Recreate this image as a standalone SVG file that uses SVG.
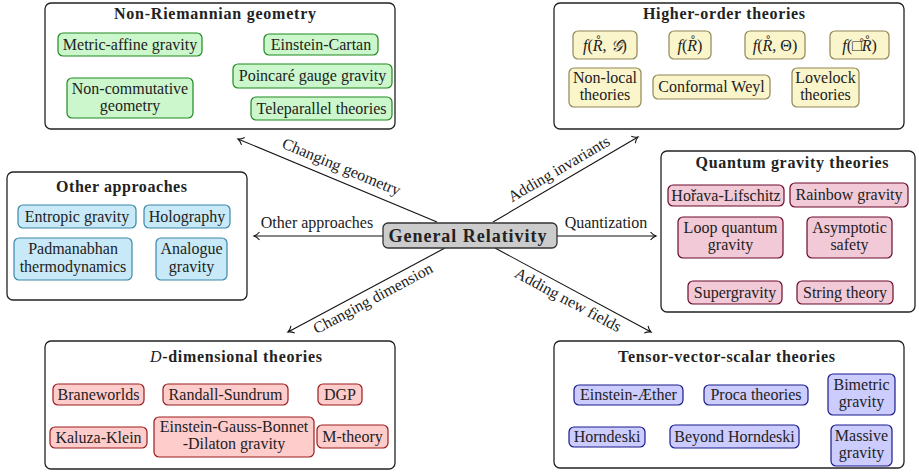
<svg xmlns="http://www.w3.org/2000/svg" width="919" height="472" viewBox="0 0 919 472" font-family="'Liberation Serif', 'DejaVu Serif', serif">
<defs>
<style>
text{font-family:'Liberation Serif','DejaVu Serif',serif;fill:#222;}
.t{font-size:16px;text-anchor:middle;}
.h{font-size:16px;font-weight:bold;text-anchor:middle;}
.lab{font-size:16px;text-anchor:middle;}
.box{fill:#fff;stroke:#222;stroke-width:1.3;}
.g{fill:#ccf7cc;stroke:#1f8a1f;stroke-width:1.2;}
.y{fill:#fbf5cc;stroke:#8f8654;stroke-width:1.2;}
.b{fill:#c8e9f7;stroke:#3a88aa;stroke-width:1.2;}
.p{fill:#f2c9d7;stroke:#6b0a2a;stroke-width:1.2;}
.r{fill:#ffcccc;stroke:#9b1c1c;stroke-width:1.2;}
.v{fill:#ccccff;stroke:#1a1a8c;stroke-width:1.2;}
.edge{stroke:#111;stroke-width:1.1;fill:none;marker-end:url(#arr);}
.m{font-style:italic;}
</style>
<marker id="arr" markerUnits="userSpaceOnUse" markerWidth="12" markerHeight="12" viewBox="-7 -6 8 12" refX="0" refY="0" orient="auto">
<path d="M-5.5,-4 C-3.5,-1.6 -1.2,-0.4 0,0 C-1.2,0.4 -3.5,1.6 -5.5,4" fill="none" stroke="#111" stroke-width="1.1"/>
</marker>
</defs>

<g id="connectors">
<line class="edge" x1="437" y1="222" x2="238" y2="139"/>
<line class="edge" x1="493" y1="222" x2="638" y2="137"/>
<line class="edge" x1="383" y1="236" x2="254" y2="236"/>
<line class="edge" x1="557" y1="236" x2="656" y2="236"/>
<line class="edge" x1="445" y1="248" x2="288" y2="332"/>
<line class="edge" x1="495" y1="248" x2="651" y2="332"/>
<text class="lab" transform="translate(341,168) rotate(22.5)" y="4">Changing geometry</text>
<text class="lab" transform="translate(559.5,170) rotate(-30.4)" y="4">Adding invariants</text>
<text class="lab" x="317" y="228">Other approaches</text>
<text class="lab" x="606" y="228">Quantization</text>
<text class="lab" transform="translate(373.5,299.5) rotate(-28.1)" y="4">Changing dimension</text>
<text class="lab" transform="translate(567.5,301) rotate(28.3)" y="4">Adding new fields</text>
</g>

<g id="general-relativity">
<rect x="383" y="223" width="174" height="25" rx="5" fill="#cccccc" stroke="#333" stroke-width="1.3"/>
<text x="467.5" y="242" textLength="158" lengthAdjust="spacing" style="font-size:18px;font-weight:bold;text-anchor:middle">General Relativity</text>
</g>

<g id="non-riemannian">
<rect class="box" x="45" y="3" width="350" height="126" rx="6"/>
<text class="h" x="215" y="18.5" textLength="202" lengthAdjust="spacing">Non-Riemannian geometry</text>
<g id="metric-affine"><rect class="g" x="58" y="33" width="144" height="23" rx="5"/><text class="t" x="130" y="49.5">Metric-affine gravity</text></g>
<g id="einstein-cartan"><rect class="g" x="264" y="34" width="114" height="21" rx="5"/><text class="t" x="321" y="49.5">Einstein-Cartan</text></g>
<g id="poincare"><rect class="g" x="233" y="64" width="159" height="24" rx="5"/><text class="t" x="312.5" y="81">Poincaré gauge gravity</text></g>
<g id="noncommutative"><rect class="g" x="67" y="78" width="126" height="40" rx="5"/><text class="t" x="130" y="94">Non-commutative</text><text class="t" x="130" y="111">geometry</text></g>
<g id="teleparallel"><rect class="g" x="251" y="97" width="141" height="23" rx="5"/><text class="t" x="321.5" y="113.5">Teleparallel theories</text></g>
</g>

<g id="higher-order">
<rect class="box" x="554" y="3" width="350" height="126" rx="6"/>
<text class="h" x="724" y="18.5" textLength="162" lengthAdjust="spacing">Higher-order theories</text>
<g id="f-r-g"><rect class="y" x="573" y="31" width="64" height="28" rx="5"/><text class="t" x="605" y="51"><tspan class="m">f</tspan>(<tspan class="m">R̊</tspan>, <tspan class="m">𝒢̊</tspan>)</text></g>
<g id="f-r"><rect class="y" x="669" y="31" width="42" height="28" rx="5"/><text class="t" x="690" y="51"><tspan class="m">f</tspan>(<tspan class="m">R̊</tspan>)</text></g>
<g id="f-r-theta"><rect class="y" x="745" y="31" width="60" height="28" rx="5"/><text class="t" x="775" y="51"><tspan class="m">f</tspan>(<tspan class="m">R̊</tspan>, Θ)</text></g>
<g id="f-box-r"><rect class="y" x="830" y="31" width="59" height="28" rx="5"/><text class="t" x="859.5" y="51"><tspan class="m">f</tspan>(□̊<tspan class="m">R̊</tspan>)</text></g>
<g id="non-local"><rect class="y" x="569" y="68" width="72" height="39" rx="5"/><text class="t" x="605" y="83">Non-local</text><text class="t" x="605" y="100">theories</text></g>
<g id="conformal-weyl"><rect class="y" x="653" y="75" width="117" height="24" rx="5"/><text class="t" x="711.5" y="92">Conformal Weyl</text></g>
<g id="lovelock"><rect class="y" x="792" y="68" width="67" height="39" rx="5"/><text class="t" x="825.5" y="83">Lovelock</text><text class="t" x="825.5" y="100">theories</text></g>
</g>

<g id="other-approaches">
<rect class="box" x="7" y="172" width="240" height="128" rx="6"/>
<text class="h" x="121.5" y="192" textLength="131" lengthAdjust="spacing">Other approaches</text>
<g id="entropic"><rect class="b" x="18" y="205" width="118" height="23" rx="5"/><text class="t" x="77" y="221.5">Entropic gravity</text></g>
<g id="holography"><rect class="b" x="144" y="205" width="86" height="23" rx="5"/><text class="t" x="187" y="221.5">Holography</text></g>
<g id="padmanabhan"><rect class="b" x="14" y="238" width="118" height="42" rx="5"/><text class="t" x="73" y="254">Padmanabhan</text><text class="t" x="73" y="272">thermodynamics</text></g>
<g id="analogue"><rect class="b" x="156" y="238" width="71" height="42" rx="5"/><text class="t" x="191.5" y="254">Analogue</text><text class="t" x="191.5" y="272">gravity</text></g>
</g>

<g id="quantum-gravity">
<rect class="box" x="661" y="151" width="254" height="161" rx="6"/>
<text class="h" x="792" y="168" textLength="193" lengthAdjust="spacing">Quantum gravity theories</text>
<g id="horava"><rect class="p" x="668" y="185" width="116" height="21" rx="5"/><text class="t" x="726" y="200.5">Hořava-Lifschitz</text></g>
<g id="rainbow"><rect class="p" x="790" y="183" width="118" height="24" rx="5"/><text class="t" x="849" y="199.5">Rainbow gravity</text></g>
<g id="lqg"><rect class="p" x="678" y="217" width="105" height="41" rx="5"/><text class="t" x="730.5" y="233">Loop quantum</text><text class="t" x="730.5" y="250">gravity</text></g>
<g id="asymptotic"><rect class="p" x="807" y="217" width="85" height="41" rx="5"/><text class="t" x="849.5" y="233">Asymptotic</text><text class="t" x="849.5" y="250">safety</text></g>
<g id="supergravity"><rect class="p" x="688" y="281" width="94" height="23" rx="5"/><text class="t" x="735" y="297.5">Supergravity</text></g>
<g id="string"><rect class="p" x="797" y="281" width="96" height="23" rx="5"/><text class="t" x="845" y="297.5">String theory</text></g>
</g>

<g id="d-dimensional">
<rect class="box" x="45" y="341" width="350" height="128" rx="6"/>
<text class="h" x="236" y="362" textLength="172" lengthAdjust="spacing"><tspan style="font-style:italic;font-weight:normal">D</tspan>-dimensional theories</text>
<g id="braneworlds"><rect class="r" x="53" y="384" width="91" height="21" rx="5"/><text class="t" x="98.5" y="399.5">Braneworlds</text></g>
<g id="randall-sundrum"><rect class="r" x="163" y="384" width="125" height="21" rx="5"/><text class="t" x="225.5" y="399.5">Randall-Sundrum</text></g>
<g id="dgp"><rect class="r" x="318" y="384" width="44" height="21" rx="5"/><text class="t" x="340" y="399.5">DGP</text></g>
<g id="kaluza-klein"><rect class="r" x="50" y="427" width="97" height="21" rx="5"/><text class="t" x="98.5" y="442.5">Kaluza-Klein</text></g>
<g id="egb"><rect class="r" x="154" y="417" width="160" height="40" rx="5"/><text class="t" x="234" y="432">Einstein-Gauss-Bonnet</text><text class="t" x="234" y="449">-Dilaton gravity</text></g>
<g id="m-theory"><rect class="r" x="317" y="425" width="71" height="23" rx="5"/><text class="t" x="352.5" y="441.5">M-theory</text></g>
</g>

<g id="tensor-vector-scalar">
<rect class="box" x="554" y="341" width="350" height="127" rx="6"/>
<text class="h" x="726.5" y="362" textLength="217" lengthAdjust="spacing">Tensor-vector-scalar theories</text>
<g id="einstein-aether"><rect class="v" x="574" y="385" width="109" height="20" rx="5"/><text class="t" x="628.5" y="400">Einstein-Æther</text></g>
<g id="proca"><rect class="v" x="704" y="385" width="104" height="20" rx="5"/><text class="t" x="756" y="400">Proca theories</text></g>
<g id="bimetric"><rect class="v" x="828" y="374" width="67" height="41" rx="5"/><text class="t" x="861.5" y="390">Bimetric</text><text class="t" x="861.5" y="407">gravity</text></g>
<g id="horndeski"><rect class="v" x="569" y="427" width="76" height="20" rx="5"/><text class="t" x="607" y="442">Horndeski</text></g>
<g id="beyond-horndeski"><rect class="v" x="670" y="425" width="129" height="23" rx="5"/><text class="t" x="734.5" y="441.5">Beyond Horndeski</text></g>
<g id="massive"><rect class="v" x="831" y="425" width="61" height="41" rx="5"/><text class="t" x="861.5" y="441">Massive</text><text class="t" x="861.5" y="458">gravity</text></g>
</g>
</svg>
